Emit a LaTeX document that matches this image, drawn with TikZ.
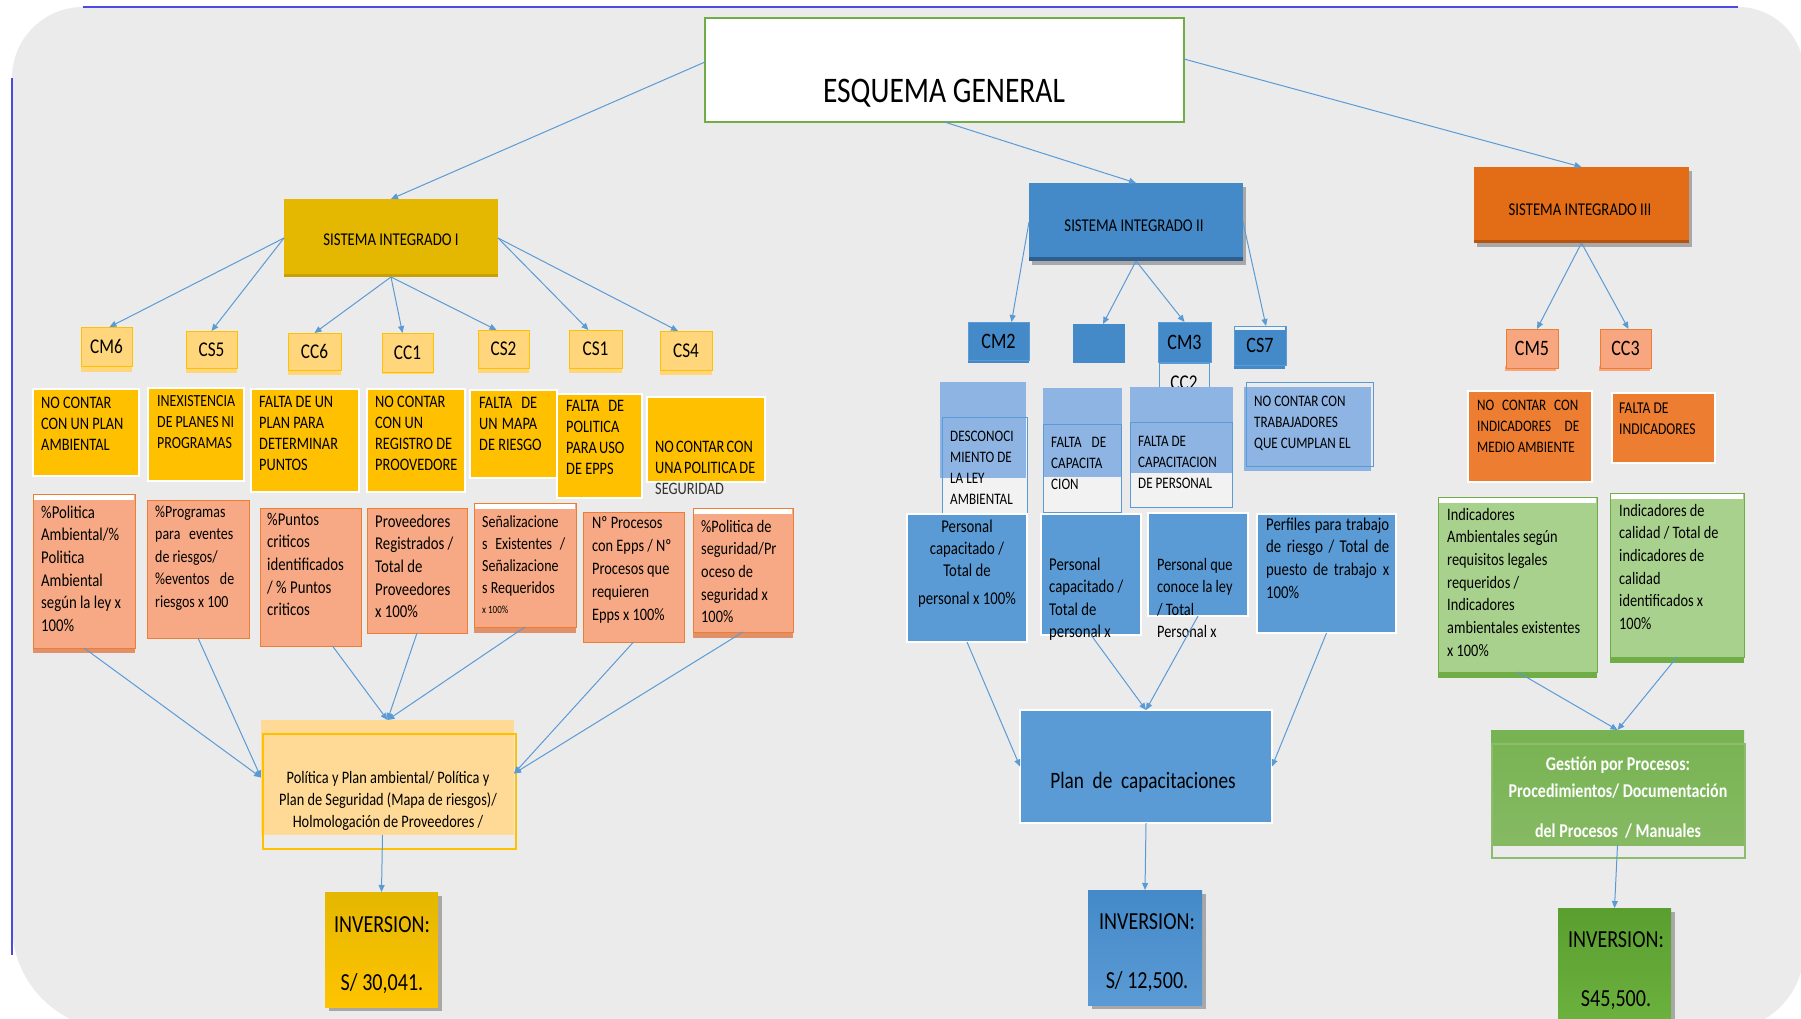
\documentclass[tikz,border=0pt]{standalone}
\usepackage{fontspec}
\setmainfont{Carlito}[FakeStretch=0.82]
\usetikzlibrary{arrows.meta}

\definecolor{bgray}{HTML}{EBEBEB}
\definecolor{edgeblue}{HTML}{4B4BE0}
\definecolor{arrblue}{HTML}{5B9BD5}
\definecolor{goldA}{HTML}{E4B700}
\definecolor{goldB}{HTML}{C9A000}
\definecolor{goldC}{HTML}{FFC400}
\definecolor{amber}{HTML}{FFC000}
\definecolor{amberL}{HTML}{FFD67C}
\definecolor{amberP}{HTML}{FEDA96}
\definecolor{salmon}{HTML}{F6A984}
\definecolor{salmonD}{HTML}{E0916A}
\definecolor{orangeB}{HTML}{ED7D31}
\definecolor{orangeS}{HTML}{E36C17}
\definecolor{orangeD}{HTML}{B5530F}
\definecolor{salmonC}{HTML}{F8A67F}
\definecolor{blueS}{HTML}{4489C8}
\definecolor{blueD}{HTML}{2D5E8E}
\definecolor{blueM}{HTML}{5B9BD5}
\definecolor{blueL}{HTML}{8EB4E3}
\definecolor{paleL}{HTML}{F2F2F2}
\definecolor{greenL}{HTML}{A9D18E}
\definecolor{greenB}{HTML}{70AD47}
\definecolor{greenM}{HTML}{77B352}
\definecolor{greenT}{HTML}{5A9E30}
\definecolor{greenI}{HTML}{6DB33F}
\definecolor{shadowg}{HTML}{A8A8A8}
\definecolor{darktxt}{HTML}{333333}

% font size with tight leading
\newcommand\fs[1]{\fontsize{#1}{#1}\selectfont}
% stacked lines, first baseline is the node baseline
\newcommand\LinesL[2]{\vtop{\baselineskip=#1pt\lineskiplimit=-50pt\lineskip=0pt\halign{##\hfil\cr#2\crcr}}}
\newcommand\LinesC[2]{\vtop{\baselineskip=#1pt\lineskiplimit=-50pt\lineskip=0pt\halign{\hfil##\hfil\cr#2\crcr}}}
% justified line of a given width
\newcommand\jb[2]{\hbox to #1pt{#2}}
% rectangle node from its corners: style, name, x1, y1, x2, y2, text
\newcommand\rbox[7]{\node[#1,minimum width={(#5)-(#3)},minimum height={(#6)-(#4)}] (#2) at ({((#3)+(#5))/2},{((#4)+(#6))/2}) {#7};}

\tikzset{
  box/.style={rectangle,inner sep=0pt,outer sep=0pt},
  arr/.style={draw=arrblue,line width=1pt,-{Triangle[length=7pt,width=6pt]}},
  lbl/.style={inner sep=0pt,anchor=base west,text=black},
  clbl/.style={inner sep=0pt,anchor=base,text=black},
  codeI/.style={box,fill=amberL,draw=amber,line width=1pt,font=\fs{21}},
  probI/.style={box,fill=amber,draw=white,line width=1.5pt},
  metI/.style={box,fill=salmon,draw=orangeB,line width=1pt},
  codeII/.style={box,fill=blueS,draw=blueM,line width=1pt,font=\fs{22}},
  outII/.style={box,fill=paleL,draw=blueM,line width=1pt},
  metII/.style={box,fill=blueM,draw=white,line width=1.5pt},
  codeIII/.style={box,fill=salmonC,draw=orangeB,line width=1pt,font=\fs{22}},
  probIII/.style={box,fill=orangeB,draw=white,line width=1.5pt},
  metIII/.style={box,fill=greenL,draw=greenB,line width=1pt},
  ptxt/.style={lbl,font=\fs{17.5}},
  mtxt/.style={lbl,font=\fs{17.5}},
  invtxt/.style={clbl,font=\fs{24.5}},
}

\begin{document}
\begin{tikzpicture}[x=1pt,y=-1pt]
\useasboundingbox (0,0) rectangle (1801,1019);

% page and rounded grey panel
\fill[white] (0,0) rectangle (1801,1019);
\fill[bgray] (12,78) arc[start angle=180,end angle=270,radius=71] -- (1738,7)
  arc[start angle=270,end angle=360,radius=66] -- (1804,950)
  arc[start angle=0,end angle=90,radius=80] -- (117,1030)
  arc[start angle=90,end angle=180,radius=105] -- cycle;
\draw[edgeblue,line width=2pt] (83,7) -- (1738,7);
\draw[edgeblue,line width=2pt] (12,78) -- (12,955);

% ---------- title ----------
\rbox{box,fill=white,draw=greenB,line width=1.5pt}{esq}{705}{18}{1184}{122}{}
\node[clbl,font=\fs{36}] (esqt) at (944,103) {ESQUEMA GENERAL};

% ---------- system headers ----------
\rbox{box,fill=goldA}{si1}{284}{199}{498}{277}{}
\fill[goldB] (284,274) rectangle (498,277);
\node[clbl,font=\fs{18}] (si1t) at (391,245) {SISTEMA INTEGRADO I};

\fill[shadowg] (1032,187) rectangle (1246,265);
\rbox{box,fill=blueS}{si2}{1029}{183}{1243}{261}{}
\fill[blueD] (1029,257) rectangle (1243,261);
\node[clbl,font=\fs{18}] (si2t) at (1134,231) {SISTEMA INTEGRADO II};

\fill[shadowg] (1477,171) rectangle (1692,247);
\rbox{box,fill=orangeS}{si3}{1474}{167}{1689}{243}{}
\fill[orangeD] (1474,240) rectangle (1689,243);
\node[clbl,font=\fs{18}] (si3t) at (1580,215) {SISTEMA INTEGRADO III};

\draw[arr] ([yshift=8pt]esq.west) -- (si1.north);
\draw[arr] (esq.south) -- (si2.north);
\draw[arr] ([yshift=11pt]esq.east) -- (si3.north);

% ---------- system I ----------
\foreach \a/\b/\c/\d in {81/366/132/372, 186/368/237/373, 288/370/341/375, 382/372/433/374, 478/368/529/373, 569/368/622/373, 660/370/712/375}
  \fill[amberL] (\a,\b) rectangle (\c,\d);
\rbox{codeI}{cm6}{81}{327}{132}{366}{CM6}
\rbox{codeI}{cs5}{186}{331}{237}{368}{CS5}
\rbox{codeI}{cc6}{288}{333}{341}{370}{CC6}
\rbox{codeI}{cc1}{382}{333}{433}{372}{CC1}
\rbox{codeI}{cs2}{478}{330}{529}{368}{CS2}
\rbox{codeI}{cs1}{569}{330}{622}{368}{CS1}
\rbox{codeI}{cs4}{660}{331}{712}{370}{CS4}

\draw[arr] (si1.west) -- ([xshift=3pt]cm6.north);
\draw[arr] (si1.west) -- (cs5.north);
\draw[arr] (si1.south) -- (cc6.north);
\draw[arr] (si1.south) -- ([xshift=-5pt]cc1.north);
\draw[arr] (si1.south) -- ([xshift=-7pt]cs2.north);
\draw[arr] (si1.east) -- ([xshift=-7pt]cs1.north);
\draw[arr] (si1.east) -- ([xshift=-8pt]cs4.north);

\rbox{probI}{p1}{33}{389}{139}{476}{}
\rbox{probI}{p2}{148}{388}{244}{481}{}
\rbox{probI}{p3}{251}{389}{359}{492}{}
\rbox{probI}{p4}{367}{389}{465}{492}{}
\rbox{probI}{p5}{470}{390}{557}{478}{}
\rbox{probI}{p6}{557}{394}{642}{498}{}
\rbox{probI}{p7}{647}{397}{765}{482}{}
\node[ptxt] (p1t) at (41,408) {\LinesL{21}{NO CONTAR\cr CON UN PLAN\cr AMBIENTAL}};
\node[ptxt,font=\fs{17}] (p2t) at (157,406) {\LinesL{21}{INEXISTENCIA\cr \jb{77}{DE PLANES NI}\cr PROGRAMAS}};
\node[ptxt] (p3t) at (259,407) {\LinesL{21}{FALTA DE UN\cr PLAN PARA\cr DETERMINAR\cr PUNTOS}};
\node[ptxt] (p4t) at (375,407) {\LinesL{21}{NO CONTAR\cr CON UN\cr REGISTRO DE\cr PROOVEDORE}};
\node[ptxt] (p5t) at (479,408) {\LinesL{21}{\jb{58}{FALTA DE}\cr \jb{58}{UN MAPA}\cr DE RIESGO}};
\node[ptxt] (p6t) at (566,411) {\LinesL{21}{\jb{58}{FALTA DE}\cr POLITICA\cr \jb{58}{PARA USO}\cr DE EPPS}};
\node[ptxt] (p7t) at (655,452) {\LinesL{21}{\jb{97}{NO CONTAR CON}\cr \jb{97}{UNA POLITICA DE}\cr \textcolor{darktxt}{SEGURIDAD}}};

% indicator boxes of system I
\fill[salmonD] (33,646) rectangle (135,653);
\fill[salmonD] (474,625) rectangle (576,633);
\fill[salmonD] (693,630) rectangle (793,638);
\rbox{metI}{m1}{33}{494}{135}{648}{}
\rbox{metI}{m2}{147}{500}{249}{638}{}
\rbox{metI}{m3}{260}{508}{361}{646}{}
\rbox{metI}{m4}{367}{508}{467}{633}{}
\rbox{metI}{m5}{474}{503}{576}{627}{}
\rbox{metI}{m6}{583}{512}{684}{642}{}
\rbox{metI}{m7}{693}{508}{793}{632}{}
\fill[white] (34,495) rectangle (134,500);
\fill[white] (475,504) rectangle (575,509);
\fill[white] (694,509) rectangle (792,514);
\node[mtxt,font=\fs{18}] (m1t) at (41,518) {\LinesL{22.7}{\%Politica\cr Ambiental/\%\cr Politica\cr Ambiental\cr según la ley x\cr 100\%}};
\node[mtxt,font=\fs{17}] (m2t) at (155,517) {\LinesL{22.5}{\%Programas\cr \jb{78}{para eventes}\cr de riesgos/\cr \jb{79}{\%eventos de}\cr riesgos x 100}};
\node[mtxt,font=\fs{18}] (m3t) at (267,525) {\LinesL{22.7}{\%Puntos\cr criticos\cr identificados\cr / \% Puntos\cr criticos}};
\node[mtxt,font=\fs{18}] (m4t) at (375,527) {\LinesL{22.7}{Proveedores\cr Registrados /\cr Total de\cr Proveedores\cr x 100\%}};
\node[mtxt,font=\fs{17}] (m5t) at (482,527) {\LinesL{22.3}{Señalizacione\cr \jb{83}{s Existentes /}\cr Señalizacione\cr s Requeridos}};
\node[lbl,font=\fs{11}] (m5s) at (482,613) {x 100\%};
\node[mtxt,font=\fs{17.5}] (m6t) at (592,528) {\LinesL{23}{Nº Procesos\cr con Epps / Nº\cr Procesos que\cr requieren\cr Epps x 100\%}};
\node[mtxt,font=\fs{17.5}] (m7t) at (701,532) {\LinesL{22.7}{\%Politica de\cr seguridad/Pr\cr oceso de\cr seguridad x\cr 100\%}};

% action box of system I
\rbox{box,fill=amberP}{pol}{261}{720}{514}{835}{}
\draw[amber,line width=1.2pt] (263,734) rectangle (516,849);
\node[clbl,font=\fs{17.5}] (polt) at (388,783) {\LinesC{22}{Política y Plan ambiental/ Política y\cr Plan de Seguridad (Mapa de riesgos)/\cr Holmologación de Proveedores /}};

\draw[arr] (m1.south) -- (pol.west);
\draw[arr] (m2.south) -- (pol.west);
\draw[arr] ([xshift=22pt]m3.south) -- (pol.north);
\draw[arr] (m4.south) -- (pol.north);
\draw[arr] (m5.south) -- (pol.north);
\draw[arr] (m6.south) -- ([yshift=4pt]pol.east);
\draw[arr] (m7.south) -- ([yshift=4pt]pol.east);

\fill[shadowg] (329,896) rectangle (442,1011);
\rbox{box,top color=goldA,bottom color=goldC}{inv1}{325}{892}{438}{1007}{}
\draw[arr] ([xshift=-5pt]pol.south) -- (inv1.north);
\node[invtxt] (inv1t) at (382,932) {\LinesC{58}{INVERSION:\cr S/ 30,041.}};

% ---------- system II ----------
\fill[blueS] (968,358) rectangle (1029,363);
\fill[blueS] (1234,362) rectangle (1285,369);
\rbox{codeII}{cm2}{968}{322}{1029}{360}{CM2}
\rbox{box,fill=blueS}{blank}{1073}{324}{1125}{363}{}
\rbox{codeII}{cm3}{1158}{322}{1211}{362}{CM3}
\rbox{box,draw=blueM,line width=1pt,font=\fs{21}}{cc2}{1159}{363}{1209}{402}{CC2}
\rbox{codeII}{cs7}{1234}{326}{1286}{365}{CS7}
\fill[paleL] (1235,327) rectangle (1285,330);

\draw[arr] (si2.west) -- ([xshift=13pt]cm2.north);
\draw[arr] (si2.south) -- ([xshift=4pt]blank.north);
\draw[arr] (si2.south) -- (cm3.north);
\draw[arr] (si2.east) -- ([xshift=6pt]cs7.north);

% problem boxes of system II
\rbox{outII}{q1}{942}{417}{1027}{513}{}
\rbox{outII}{q2}{1043}{424}{1121}{512}{}
\rbox{outII}{q3}{1130}{422}{1232}{507}{}
\fill[blueL] (940,382) rectangle (1026,478);
\fill[blueL] (1043,388) rectangle (1122,477);
\fill[blueL] (1130,387) rectangle (1233,473);
\fill[blueL] (1244,387) rectangle (1371,471);
\draw[blueM,line width=1pt] (942,417) rectangle (1027,513);
\draw[blueM,line width=1pt] (1043,424) rectangle (1121,512);
\draw[blueM,line width=1pt] (1130,422) rectangle (1232,507);
\rbox{box,draw=blueM,line width=1pt}{q4}{1246}{382}{1373}{466}{}
\node[ptxt,font=\fs{16}] (q1t) at (950,441) {\LinesL{21}{DESCONOCI\cr MIENTO DE\cr LA LEY\cr AMBIENTAL}};
\node[ptxt,font=\fs{16}] (q2t) at (1051,447) {\LinesL{21}{\jb{55}{FALTA DE}\cr CAPACITA\cr CION}};
\node[ptxt,font=\fs{16}] (q3t) at (1138,446) {\LinesL{21}{FALTA DE\cr CAPACITACION\cr DE PERSONAL}};
\node[ptxt,font=\fs{16}] (q4t) at (1254,406) {\LinesL{21}{NO CONTAR CON\cr TRABAJADORES\cr QUE CUMPLAN EL}};

% indicator boxes of system II
\rbox{metII}{n1}{907}{514}{1027}{642}{}
\rbox{metII}{n2}{1041}{514}{1141}{635}{}
\rbox{metII}{n3}{1148}{513}{1248}{616}{}
\rbox{metII}{n4}{1257}{514}{1396}{633}{}
\node[clbl,font=\fs{18}] (n1t) at (967,532) {\LinesC{22}{Personal\cr capacitado /\cr Total de\cr\noalign{\vskip6pt} personal x 100\%}};
\node[mtxt,font=\fs{18}] (n2t) at (1049,570) {\LinesL{22.5}{Personal\cr capacitado /\cr Total de\cr personal x}};
\node[mtxt,font=\fs{17.5}] (n3t) at (1157,570) {\LinesL{22.5}{Personal que\cr conoce la ley\cr / Total\cr Personal x}};
\node[mtxt,font=\fs{18}] (n4t) at (1266,530) {\LinesL{22.7}{\jb{123}{Perfiles para trabajo}\cr \jb{123}{de riesgo / Total de}\cr \jb{123}{puesto de trabajo x}\cr 100\%}};

\rbox{metII}{plan}{1020}{710}{1272}{823}{}
\node[clbl,font=\fs{23.5}] (plant) at (1143,788) {Plan\ \ de\ \ capacitaciones};

\draw[arr] (n1.south) -- (plan.west);
\draw[arr] (n2.south) -- (plan.north);
\draw[arr] (n3.south) -- (plan.north);
\draw[arr] (n4.south) -- (plan.east);

\fill[shadowg] (1092,894) rectangle (1206,1009);
\rbox{box,top color=blueS,bottom color=blueM}{inv2}{1088}{890}{1202}{1005}{}
\draw[arr] (plan.south) -- (inv2.north);
\node[invtxt] (inv2t) at (1147,929) {\LinesC{59}{INVERSION:\cr S/ 12,500.}};

% ---------- system III ----------
\fill[salmonC] (1505,366) rectangle (1556,371);
\fill[salmonC] (1599,366) rectangle (1650,371);
\rbox{codeIII}{cm5}{1506}{329}{1558}{368}{CM5}
\rbox{codeIII}{cc3}{1600}{329}{1651}{368}{CC3}
\draw[arr] (si3.south) -- ([xshift=5pt]cm5.north);
\draw[arr] (si3.south) -- ([xshift=3pt]cc3.north);

\rbox{probIII}{r1}{1468}{391}{1592}{482}{}
\rbox{probIII}{r2}{1612}{393}{1715}{463}{}
\node[ptxt,font=\fs{16}] (r1t) at (1477,410) {\LinesL{21}{\jb{101}{NO CONTAR CON}\cr \jb{102}{INDICADORES DE}\cr MEDIO AMBIENTE}};
\node[ptxt,font=\fs{16.5}] (r2t) at (1619,413) {\LinesL{21}{FALTA DE\cr INDICADORES}};

\fill[greenB] (1438,670) rectangle (1597,678);
\fill[greenB] (1610,655) rectangle (1744,663);
\rbox{metIII}{g1}{1438}{497}{1597}{672}{}
\rbox{metIII}{g2}{1610}{493}{1744}{657}{}
\fill[white] (1439,498) rectangle (1596,503);
\fill[white] (1611,494) rectangle (1743,499);
\node[mtxt,font=\fs{17.5}] (g1t) at (1447,520) {\LinesL{22.7}{Indicadores\cr Ambientales según\cr requisitos legales\cr requeridos /\cr Indicadores\cr ambientales existentes\cr x 100\%}};
\node[mtxt,font=\fs{17.5}] (g2t) at (1619,516) {\LinesL{22.7}{Indicadores de\cr calidad / Total de\cr indicadores de\cr calidad\cr identificados x\cr 100\%}};

\rbox{box,top color=greenM,bottom color=greenB!85!white}{gest}{1491}{730}{1744}{845}{}
\draw[greenB!80!white,line width=1.2pt] (1492,744) rectangle (1745,858);
\node[clbl,text=white,font=\fs{19.5}\bfseries] (gestt) at (1618,770) {\LinesC{27}{Gestión por Procesos:\cr Procedimientos/ Documentación\cr\noalign{\vskip13pt} del Procesos\ \ / Manuales}};

\draw[arr] (g1.south) -- (gest.north);
\draw[arr] (g2.south) -- (gest.north);

\fill[shadowg] (1562,912) rectangle (1675,1030);
\rbox{box,top color=greenT,bottom color=greenI}{inv3}{1558}{908}{1671}{1030}{}
\draw[arr] (gest.south) -- (inv3.north);
\node[invtxt] (inv3t) at (1616,947) {\LinesC{59}{INVERSION:\cr S45,500.}};

\end{tikzpicture}
\end{document}
